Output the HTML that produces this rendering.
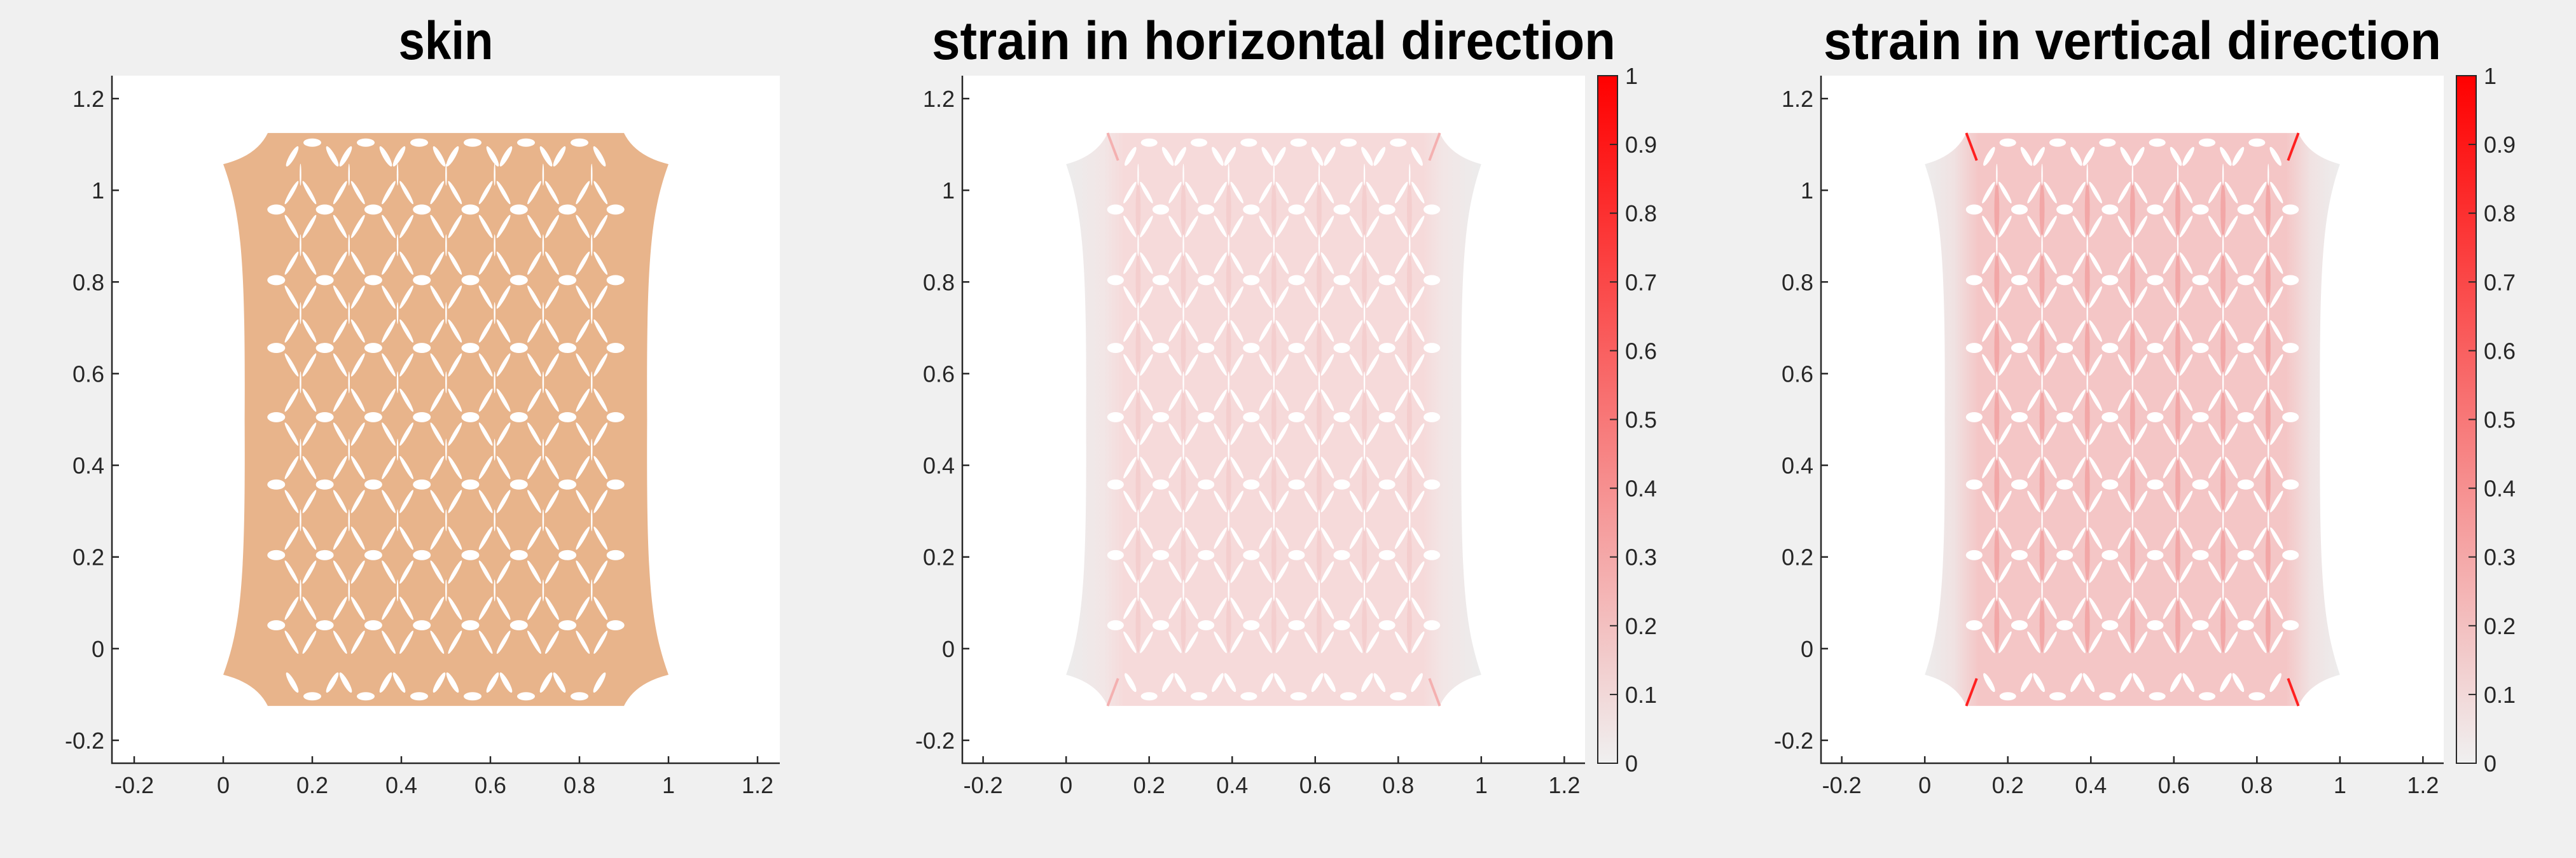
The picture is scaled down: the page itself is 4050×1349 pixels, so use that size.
<!DOCTYPE html>
<html><head><meta charset="utf-8"><style>
html,body{margin:0;padding:0;background:#f0f0f0;}
svg{display:block;font-family:"Liberation Sans",Arial,sans-serif;}
</style></head><body>
<svg id="fig" width="4050" height="1349" viewBox="0 0 4050 1349" xmlns="http://www.w3.org/2000/svg">
<defs>
<linearGradient id="cbgrad" x1="0" y1="1" x2="0" y2="0">
<stop offset="0" stop-color="#f0f0f0"/><stop offset="1" stop-color="#ff0000"/>
</linearGradient>
<linearGradient id="hgrad" x1="0" y1="0" x2="1" y2="0">
<stop offset="0" stop-color="#ececec"/><stop offset="0.09" stop-color="#f2e6e6"/><stop offset="0.14" stop-color="#f6dada"/><stop offset="0.86" stop-color="#f6dada"/><stop offset="0.91" stop-color="#f2e6e6"/><stop offset="1" stop-color="#ececec"/>
</linearGradient>
<linearGradient id="vgrad" x1="0" y1="0" x2="1" y2="0">
<stop offset="0" stop-color="#ededed"/><stop offset="0.07" stop-color="#f0e2e2"/><stop offset="0.13" stop-color="#f4c6c6"/><stop offset="0.87" stop-color="#f4c6c6"/><stop offset="0.93" stop-color="#f0e2e2"/><stop offset="1" stop-color="#ededed"/>
</linearGradient>
</defs>
</svg>
<script>
// axis / data arrays
const xTicks = [-0.2, 0, 0.2, 0.4, 0.6, 0.8, 1, 1.2];
const xTickLabels = ["-0.2","0","0.2","0.4","0.6","0.8","1","1.2"];
const yTicks = [-0.2, 0, 0.2, 0.4, 0.6, 0.8, 1, 1.2];
const yTickLabels = ["-0.2","0","0.2","0.4","0.6","0.8","1","1.2"];
const cbTicks = [0,0.1,0.2,0.3,0.4,0.5,0.6,0.7,0.8,0.9,1];
const cbTickLabels = ["0","0.1","0.2","0.3","0.4","0.5","0.6","0.7","0.8","0.9","1"];
const holeRows = [0.051, 0.204, 0.358, 0.505, 0.656, 0.804, 0.958];
const holeCols = [0.119, 0.228, 0.337, 0.446, 0.555, 0.664, 0.773, 0.881];
const edgeHoleCols = [0.2, 0.32, 0.44, 0.56, 0.68, 0.8];
const edgeHoleRows = [1.104, -0.104];
const titles = ["skin", "strain in horizontal direction", "strain in vertical direction"];

const NS = "http://www.w3.org/2000/svg";
const svg = document.getElementById('fig');
function mk(tag, attrs, parent){ const e=document.createElementNS(NS,tag); for(const k in attrs) e.setAttribute(k,attrs[k]); (parent||svg).appendChild(e); return e; }

const Y0=119, Y1=1200, YMIN=-0.25, YMAX=1.25;
const panels = [
 {x0:176, x1:1226, fill:"#e8b48b", cb:null, titleW:149},
 {x0:1513, x1:2492, fill:"url(#hgrad)", cb:[2512,2543], titleW:1075, accent:"#f0a0a0", corner:"#f4b0b0"},
 {x0:2863, x1:3842, fill:"url(#vgrad)", cb:[3862,3893], titleW:971, accent:"#f06060", corner:"#ff2020"}
];

panels.forEach((p,pi)=>{
  const sx = v => p.x0 + (v - (-0.25))/1.5*(p.x1-p.x0);
  const sy = v => Y1 - (v - YMIN)/(YMAX-YMIN)*(Y1-Y0);
  const g = mk('g',{});
  
  
  const bg = mk('rect',{x:p.x0,y:Y0,width:p.x1-p.x0,height:Y1-Y0,fill:'#ffffff'},g);
  
  
  const P=(x,y)=>sx(x).toFixed(1)+','+sy(y).toFixed(1);
  const d = 'M'+P(0.1,1.125)+' L'+P(0.9,1.125)+' Q'+P(0.925,1.075)+' '+P(1,1.057)+
    ' C'+P(0.96,0.95)+' '+P(0.95,0.85)+' '+P(0.952,0.5)+' C'+P(0.95,0.15)+' '+P(0.96,0.05)+' '+P(1,-0.057)+' Q'+P(0.925,-0.075)+' '+P(0.9,-0.125)+
    ' L'+P(0.1,-0.125)+' Q'+P(0.075,-0.075)+' '+P(0,-0.057)+' C'+P(0.04,0.05)+' '+P(0.05,0.15)+' '+P(0.048,0.5)+' C'+P(0.05,0.85)+' '+P(0.04,0.95)+' '+P(0,1.057)+' Q'+P(0.075,1.075)+' '+P(0.1,1.125)+' Z';
  const sh = mk('path',{d:d,fill:p.fill},g);
  
  
  const kx=(p.x1-p.x0)/1.5, ky=(Y1-Y0)/1.5;
  if(p.accent){
    holeRows.forEach(r=>{ holeCols.forEach((c,i)=>{ if(i<holeCols.length-1){
      const xm=(c+holeCols[i+1])/2;
      const a=mk('ellipse',{cx:sx(xm),cy:sy(r),rx:0.006*kx,ry:0.06*ky,fill:p.accent,opacity:pi==2?0.3:0.2},g);
      
      
    }});});
    [[0.1,1.125],[0.9,1.125],[0.1,-0.125],[0.9,-0.125]].forEach(([x,y])=>{
      const dy = y>0?-0.06:0.06;
      const l=mk('path',{d:'M'+P(x,y)+' L'+P(x+(x<0.5?0.025:-0.025),y+dy),stroke:p.corner,'stroke-width':4,fill:'none'},g);
      
      
    });
  }
  const hole=(cx,cy,rx,ry,rot)=>{ const e=mk('ellipse',{cx:sx(cx),cy:sy(cy),rx:rx*kx,ry:ry*ky,fill:'#ffffff',transform:'rotate('+rot+' '+sx(cx)+' '+sy(cy)+')'},g);
      };
  holeRows.forEach(r=>{
    holeCols.forEach((c,i)=>{
      hole(c,r,0.02,0.011,0);
      if(i<holeCols.length-1){
        const xm=c+0.0545;
        hole(xm-0.02,r+0.037,0.03,0.0045,-60);
        hole(xm+0.02,r+0.037,0.03,0.0045,60);
        hole(xm-0.02,r-0.037,0.03,0.0045,60);
        hole(xm+0.02,r-0.037,0.03,0.0045,-60);
        hole(xm,r+0.076,0.0018,0.024,0);
      }
    });
  });
  edgeHoleRows.forEach(r=>{ edgeHoleCols.forEach(c=>{ hole(c,r,0.02,0.009,0);
    const s = r>0?-1:1;
    hole(c-0.045,r+s*0.03,0.026,0.006,s*60); hole(c+0.045,r+s*0.03,0.026,0.006,-s*60); }); });
  const ax=mk('path',{d:'M'+p.x0+','+Y0+' L'+p.x0+','+Y1+' L'+p.x1+','+Y1,stroke:'#262626','stroke-width':2.5,fill:'none'},g);
   
  xTicks.forEach((t,i)=>{
    const X=sx(t);
    const tk=mk('line',{x1:X,x2:X,y1:Y1,y2:Y1-11,stroke:'#262626','stroke-width':2.5},g);
     
    const tx=mk('text',{x:X,y:1247,'font-size':36,fill:'#262626','text-anchor':'middle'},g);
    tx.textContent=xTickLabels[i];
     
  });
  yTicks.forEach((t,i)=>{
    const Yp=sy(t);
    const tk=mk('line',{x1:p.x0,x2:p.x0+11,y1:Yp,y2:Yp,stroke:'#262626','stroke-width':2.5},g);
     
    const tx=mk('text',{x:p.x0-12,y:Yp+13,'font-size':36,fill:'#262626','text-anchor':'end'},g);
    tx.textContent=yTickLabels[i];
     
  });
  const tt=mk('text',{x:(p.x0+p.x1)/2,y:93,'font-size':84,'font-weight':'bold',fill:'#000','text-anchor':'middle',textLength:p.titleW,lengthAdjust:'spacingAndGlyphs'},g);
  tt.textContent=titles[pi];
   
  if(p.cb){
    const [c0,c1]=p.cb;
    const cs=v=>Y1-v*(Y1-Y0);
    const cb=mk('rect',{x:c0,y:Y0,width:c1-c0,height:Y1-Y0,fill:'url(#cbgrad)',stroke:'#262626','stroke-width':2},g);
     
    cbTicks.forEach((t,i)=>{
      const Yp=cs(t);
      const tk=mk('line',{x1:c1-12,x2:c1,y1:Yp,y2:Yp,stroke:'#262626','stroke-width':2},g);
       
      const tx=mk('text',{x:c1+12,y:Yp+13,'font-size':36,fill:'#262626'},g);
      tx.textContent=cbTickLabels[i];
       
    });
  }
});
</script>
</body></html>
